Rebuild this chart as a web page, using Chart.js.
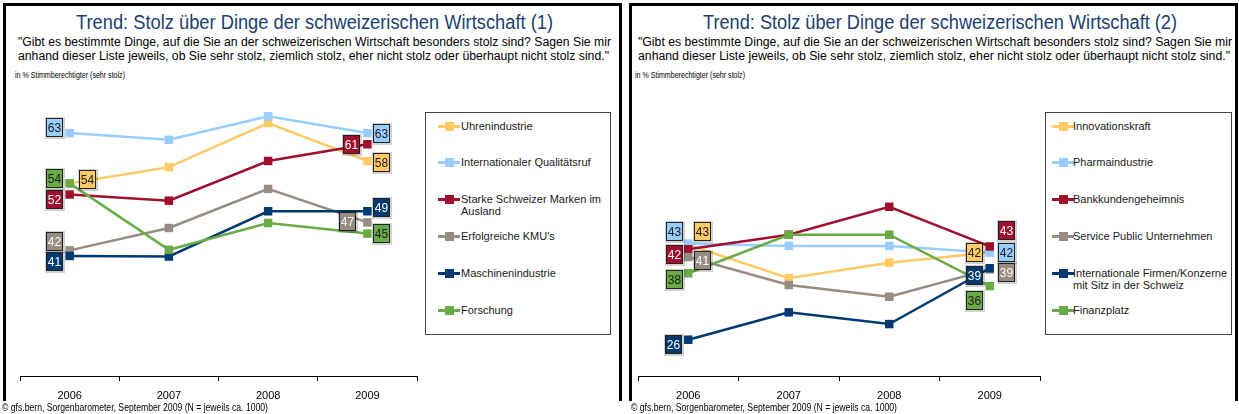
<!DOCTYPE html>
<html>
<head>
<meta charset="utf-8">
<script src="https://cdn.jsdelivr.net/npm/chart.js@4/dist/chart.umd.min.js"></script>
<style>
  html, body { margin:0; padding:0; }
  body { width:1239px; height:414px; background:#fff; position:relative; overflow:hidden;
         font-family:"Liberation Sans", Arial, sans-serif; color:#000; }
  .panel { position:absolute; top:3px; height:398px; border:3px solid #000; border-bottom:none; box-sizing:border-box; }
  .t { position:absolute; white-space:nowrap; line-height:1; transform-origin:0 0; }
  .title { font-size:20px; color:#1B3F6E; }
  .sub { font-size:12px; color:#000; }
  .unit { font-size:9.5px; color:#000; }
  .foot { font-size:10px; color:#000; background:#fff; }
  canvas { position:absolute; top:0; }
  .legend { position:absolute; top:112px; height:223px; border:1px solid #444; box-sizing:border-box; background:#fff; }
  .li { position:absolute; font-size:11px; line-height:12px; color:#1a1a1a; }
  .mk { position:absolute; height:3px; }
  .sq { position:absolute; width:9px; height:9px; }
</style>
</head>
<body>
<div class="panel" style="left:3px;width:619px;"></div>
<div class="panel" style="left:629px;width:609px;"></div>

<div class="t title" data-x="76" data-w="477" data-b="28.5">Trend: Stolz über Dinge der schweizerischen Wirtschaft (1)</div>
<div class="t sub" data-x="18" data-w="593" data-b="46.5">"Gibt es bestimmte Dinge, auf die Sie an der schweizerischen Wirtschaft besonders stolz sind? Sagen Sie mir</div>
<div class="t sub" data-x="18" data-w="591" data-b="60">anhand dieser Liste jeweils, ob Sie sehr stolz, ziemlich stolz, eher nicht stolz oder überhaupt nicht stolz sind."</div>
<div class="t unit" data-x="15" data-w="110" data-b="78">in % Stimmberechtigter (sehr stolz)</div>

<div class="t title" data-x="703" data-w="474" data-b="28.5">Trend: Stolz über Dinge der schweizerischen Wirtschaft (2)</div>
<div class="t sub" data-x="638" data-w="594" data-b="46.5">"Gibt es bestimmte Dinge, auf die Sie an der schweizerischen Wirtschaft besonders stolz sind? Sagen Sie mir</div>
<div class="t sub" data-x="638" data-w="592" data-b="60">anhand dieser Liste jeweils, ob Sie sehr stolz, ziemlich stolz, eher nicht stolz oder überhaupt nicht stolz sind."</div>
<div class="t unit" data-x="635" data-w="110" data-b="78">in % Stimmberechtigter (sehr stolz)</div>

<canvas id="c1" width="620" height="404" style="left:0;width:620px;height:404px;"></canvas>
<canvas id="c2" width="619" height="404" style="left:620px;width:619px;height:404px;"></canvas>

<div class="legend" id="lg1" style="left:425px;width:186px;"></div>
<div class="legend" id="lg2" style="left:1045px;width:187px;"></div>

<div class="t foot" data-x="2" data-w="266" data-b="411">© gfs.bern, Sorgenbarometer, September 2009 (N = jeweils ca. 1000)</div>
<div class="t foot" data-x="631" data-w="266" data-b="411">© gfs.bern, Sorgenbarometer, September 2009 (N = jeweils ca. 1000)</div>

<script>
// ---------- DATA ----------
const years = ['2006', '2007', '2008', '2009'];

// Chart (1)
const names1 = ['Uhrenindustrie', 'Internationaler Qualitätsruf', 'Starke Schweizer Marken im Ausland',
                "Erfolgreiche KMU's", 'Maschinenindustrie', 'Forschung'];
const uhrenindustrie      = [54, 56.9, 64.8, 58];
const qualitaetsruf       = [63, 61.8, 66, 63];
const markenAusland       = [52, 50.9, 58, 61];
const erfolgreicheKMU     = [42, 46, 53, 47];
const maschinenindustrie  = [41, 40.9, 49, 49];
const forschung           = [54, 42.1, 46.9, 45];

// Chart (2)
const names2 = ['Innovationskraft', 'Pharmaindustrie', 'Bankkundengeheimnis', 'Service Public Unternehmen',
                'Internationale Firmen/Konzerne mit Sitz in der Schweiz', 'Finanzplatz'];
const innovationskraft     = [43, 37, 39.8, 41.6];
const pharmaindustrie      = [43.2, 42.8, 42.8, 41.6];
const bankkundengeheimnis  = [42.2, 44.8, 49.8, 42.7];
const servicePublic        = [40.8, 35.8, 33.7, 38.6];
const internationaleFirmen = [26, 30.9, 28.8, 38.8];
const finanzplatz          = [37.9, 44.8, 44.8, 35.6];

// ---------- STYLE ----------
const colors = ['#FFC966', '#99CCFF', '#A0102E', '#968C82', '#003A70', '#6AAB47'];
const labelTextColors = ['#1a1a1a', '#1a1a1a', '#ffffff', '#ffffff', '#ffffff', '#1a1a1a'];
// label box offsets [first point [dx,dy], last point [dx,dy]] relative to the marker
const offsets1 = [
  [[18, -4], [14, 1]],
  [[-15, -6], [14, 0]],
  [[-15, 5], [-16, 0]],
  [[-15, -9], [-20, -1]],
  [[-15, 6], [14, -4]],
  [[-15, -5], [14, 0]]
];
const offsets2 = [
  [[14, -13], [-15, 0]],
  [[-14, -12], [17, 0]],
  [[-14, 5], [17, -16]],
  [[14, 3], [17, 3]],
  [[-15, 5], [-15, 7]],
  [[-14, 6], [-15, 14]]
];

// ---------- TEXT FITTING ----------
document.querySelectorAll('.t').forEach(el => {
  const size = parseFloat(getComputedStyle(el).fontSize);
  el.style.left = el.dataset.x + 'px';
  el.style.top = (parseFloat(el.dataset.b) - 0.8465 * size) + 'px';
  const w = el.getBoundingClientRect().width;
  el.style.transform = 'scaleX(' + (parseFloat(el.dataset.w) / w) + ')';
});

// ---------- LEGENDS ----------
function buildLegend(id, names, mkLeft, txtLeft, txtWidth) {
  const box = document.getElementById(id);
  names.forEach((n, i) => {
    const cy = 13 + i * 36.9;
    const line = document.createElement('div');
    line.className = 'mk';
    line.style.cssText = `left:${mkLeft}px;top:${cy - 1.5}px;width:22px;background:${colors[i]};`;
    box.appendChild(line);
    const sq = document.createElement('div');
    sq.className = 'sq';
    sq.style.cssText = `left:${mkLeft + 7}px;top:${cy - 4.5}px;background:${colors[i]};`;
    box.appendChild(sq);
    const tx = document.createElement('div');
    tx.className = 'li';
    tx.style.cssText = `left:${txtLeft}px;top:${cy - 6.5}px;width:${txtWidth}px;`;
    tx.textContent = n;
    box.appendChild(tx);
  });
}
buildLegend('lg1', names1, 12, 35, 142);
buildLegend('lg2', names2, 6, 27, 156);

// ---------- CHARTS ----------
const boxLabels = {
  id: 'boxLabels',
  afterDatasetsDraw(chart, args, opts) {
    const ctx = chart.ctx;
    const n = chart.data.labels.length;
    chart.data.datasets.forEach((ds, i) => {
      const meta = chart.getDatasetMeta(i);
      [0, n - 1].forEach((idx, k) => {
        const pt = meta.data[idx];
        const off = opts.offsets[i][k];
        const w = 17, h = 19;
        const x0 = Math.round(pt.x + off[0] - w / 2), y0 = Math.round(pt.y + off[1] - h / 2);
        ctx.save();
        ctx.fillStyle = 'rgba(0,0,0,0.18)';
        ctx.fillRect(x0 - 1, y0 - 1, w + 3, h + 3);
        ctx.fillStyle = ds.borderColor;
        ctx.fillRect(x0, y0, w, h);
        ctx.strokeStyle = '#222';
        ctx.lineWidth = 1;
        ctx.strokeRect(x0 + 0.5, y0 + 0.5, w - 1, h - 1);
        ctx.fillStyle = labelTextColors[i];
        ctx.font = '12px "Liberation Sans", Arial, sans-serif';
        ctx.textAlign = 'center';
        ctx.textBaseline = 'middle';
        ctx.fillText(String(Math.round(ds.data[idx])), x0 + w / 2, y0 + h / 2 + 1);
        ctx.restore();
      });
    });
  }
};

function buildChart(id, names, series, offsets, padL, padR) {
  return new Chart(document.getElementById(id), {
    type: 'line',
    data: {
      labels: years,
      datasets: series.map((d, i) => ({
        label: names[i],
        data: d,
        borderColor: colors[i],
        backgroundColor: colors[i],
        pointBackgroundColor: colors[i],
        pointBorderColor: colors[i],
        pointStyle: 'rect',
        pointRadius: 6,
        pointHoverRadius: 6,
        pointBorderWidth: 0,
        borderWidth: 2.5,
        tension: 0,
        order: series.length - i
      }))
    },
    options: {
      responsive: false,
      animation: false,
      events: [],
      layout: { padding: { top: 94, left: padL, right: padR, bottom: 0 } },
      plugins: {
        legend: { display: false },
        tooltip: { enabled: false },
        title: { display: false },
        boxLabels: { offsets: offsets }
      },
      scales: {
        x: {
          offset: true,
          grid: { offset: true, drawOnChartArea: false, tickLength: 5, color: '#000', lineWidth: 1 },
          border: { display: true, color: '#000', width: 1 },
          ticks: { color: '#000', font: { family: '"Liberation Sans", Arial, sans-serif', size: 11 }, padding: 8 },
          afterFit(scale) { scale.height = 28; }
        },
        y: { display: false, min: 19.5, max: 70 }
      }
    },
    plugins: [boxLabels]
  });
}

buildChart('c1', names1,
  [uhrenindustrie, qualitaetsruf, markenAusland, erfolgreicheKMU, maschinenindustrie, forschung],
  offsets1, 20, 203);
buildChart('c2', names2,
  [innovationskraft, pharmaindustrie, bankkundengeheimnis, servicePublic, internationaleFirmen, finanzplatz],
  offsets2, 18, 199);
</script>
</body>
</html>
